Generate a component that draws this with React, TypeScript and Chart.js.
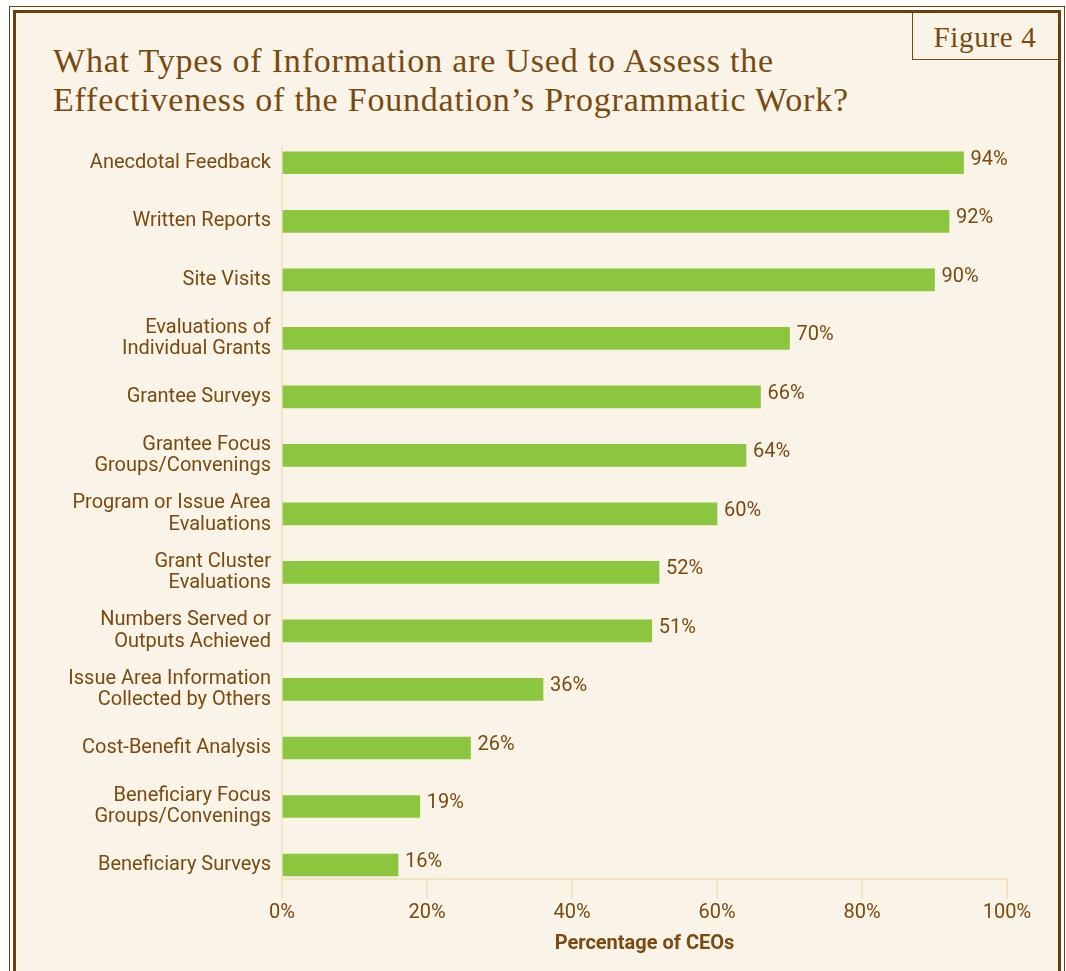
import React, { useEffect, useRef } from "react";
import { Chart, registerables } from "chart.js";

Chart.register(...registerables);

const categories: (string | string[])[] = [
  "Anecdotal Feedback",
  "Written Reports",
  "Site Visits",
  ["Evaluations of", "Individual Grants"],
  "Grantee Surveys",
  ["Grantee Focus", "Groups/Convenings"],
  ["Program or Issue Area", "Evaluations"],
  ["Grant Cluster", "Evaluations"],
  ["Numbers Served or", "Outputs Achieved"],
  ["Issue Area Information", "Collected by Others"],
  "Cost-Benefit Analysis",
  ["Beneficiary Focus", "Groups/Convenings"],
  "Beneficiary Surveys",
];
const values = [94, 92, 90, 70, 66, 64, 60, 52, 51, 36, 26, 19, 16];
const xTicks = [0, 20, 40, 60, 80, 100];

const BROWN = "#7a4a0f";
const DARK = "#6e3f0b";
const CREAM = "#faf3e8";
const GREEN = "#8cc63f";
const AXIS = "#f2e5c4";
const SANS = "Roboto, 'Noto Sans', sans-serif";

const valueLabels = {
  id: "valueLabels",
  afterDatasetsDraw(chart: any) {
    const ctx = chart.ctx;
    const meta = chart.getDatasetMeta(0);
    ctx.save();
    ctx.font = `20px ${SANS}`;
    ctx.fillStyle = BROWN;
    ctx.textAlign = "left";
    ctx.textBaseline = "middle";
    meta.data.forEach((bar: any, i: number) => {
      ctx.fillText(`${values[i]}%`, bar.x + 7, bar.y - 3);
    });
    ctx.restore();
  },
};

export default function App() {
  const ref = useRef<HTMLCanvasElement | null>(null);
  useEffect(() => {
    if (!ref.current) return;
    const chart = new Chart(ref.current, {
      type: "bar",
      data: {
        datasets: [
          {
            data: values.map((v, i) => ({ x: v, y: i })),
            backgroundColor: GREEN,
            borderWidth: 0,
            barThickness: 22,
          },
        ],
      },
      options: {
        indexAxis: "y",
        animation: false,
        responsive: false,
        maintainAspectRatio: false,
        layout: { padding: { top: 21, right: 51, left: 0, bottom: 0 } },
        plugins: {
          legend: { display: false },
          tooltip: { enabled: false },
        },
        scales: {
          x: {
            type: "linear",
            position: "bottom",
            min: 0,
            max: 100,
            afterBuildTicks: (scale: any) => {
              scale.ticks = xTicks.map((v) => ({ value: v }));
            },
            afterFit: (scale: any) => {
              scale.height = 92;
            },
            ticks: {
              callback: (v: any) => `${v}%`,
              color: BROWN,
              font: { family: SANS, size: 20 },
              padding: 2,
              maxRotation: 0,
            },
            grid: {
              display: true,
              drawOnChartArea: false,
              drawTicks: true,
              tickLength: 20,
              color: AXIS,
              lineWidth: 2,
            },
            border: { display: true, color: AXIS, width: 2 },
            title: {
              display: true,
              text: "Percentage of CEOs",
              color: BROWN,
              font: { family: SANS, size: 20, weight: "bold" },
              padding: { top: 4, bottom: 15 },
            },
          },
          y: {
            type: "linear",
            reverse: true,
            offset: false,
            min: -0.273,
            max: 12.239,
            afterBuildTicks: (scale: any) => {
              scale.ticks = categories.map((_, i) => ({ value: i }));
            },
            afterFit: (scale: any) => {
              scale.width = 266;
            },
            ticks: {
              autoSkip: false,
              callback: (v: any) => categories[v as number],
              color: BROWN,
              font: { family: SANS, size: 20, lineHeight: 1.08 },
              padding: 11,
            },
            grid: { display: false, drawTicks: false },
            border: { display: true, color: AXIS, width: 2 },
          },
        },
      },
      plugins: [valueLabels],
    } as any);
    return () => chart.destroy();
  }, []);

  return (
    <div>
      <div
        style={{
          position: "absolute",
          left: 9,
          top: 6,
          width: 1056,
          height: 965,
          boxSizing: "border-box",
          border: `1px solid ${DARK}`,
          borderBottom: "none",
          background: "#ffffff",
        }}
      />
      <div
        style={{
          position: "absolute",
          left: 13,
          top: 10,
          width: 1048,
          height: 961,
          boxSizing: "border-box",
          border: `3px solid ${DARK}`,
          borderBottom: "none",
          background: CREAM,
        }}
      />
      <div
        style={{
          position: "absolute",
          left: 912,
          top: 13,
          width: 146,
          height: 47,
          boxSizing: "border-box",
          borderLeft: `1px solid ${BROWN}`,
          borderBottom: `1px solid ${BROWN}`,
        }}
      />
      <div
        style={{
          position: "absolute",
          left: 912,
          top: 23,
          width: 146,
          textAlign: "center",
          fontFamily: "'Liberation Serif', serif",
          fontSize: 29,
          lineHeight: "28px",
          letterSpacing: "0.7px",
          color: BROWN,
        }}
      >
        Figure 4
      </div>
      <div
        style={{
          position: "absolute",
          left: 53,
          top: 41,
          fontFamily: "'Liberation Serif', serif",
          fontSize: 34,
          lineHeight: "39px",
          letterSpacing: "0.8px",
          color: BROWN,
          whiteSpace: "nowrap",
        }}
      >
        What Types of Information are Used to Assess the
        <br />
        Effectiveness of the Foundation’s Programmatic Work?
      </div>
      <canvas
        ref={ref}
        width={1042}
        height={846}
        style={{ position: "absolute", left: 16, top: 125, width: 1042, height: 846 }}
      />
    </div>
  );
}
